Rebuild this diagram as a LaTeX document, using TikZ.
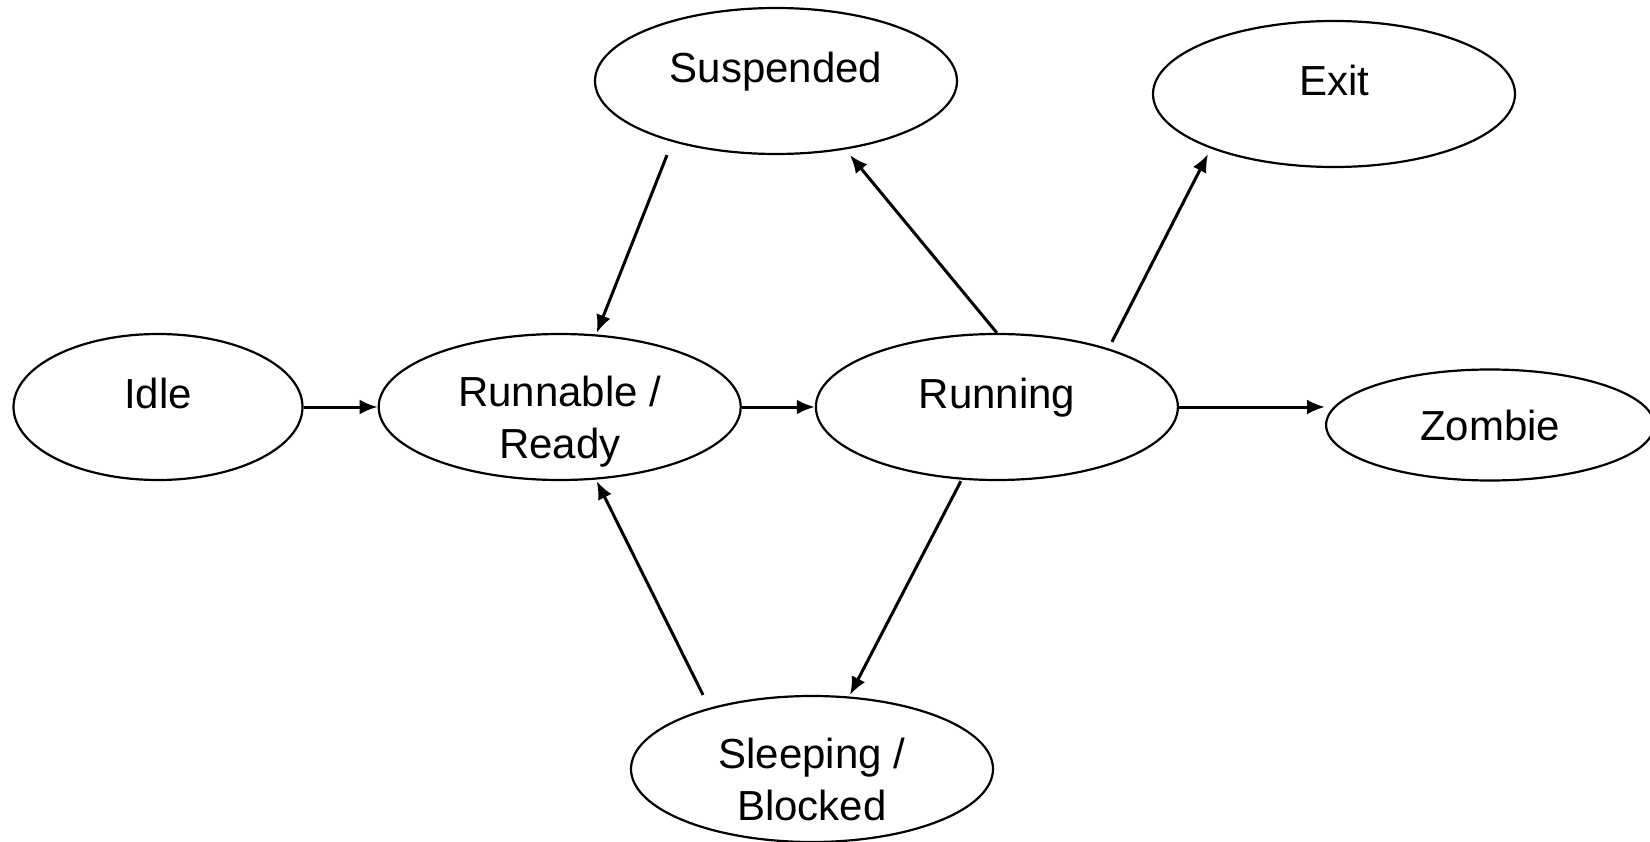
\documentclass[tikz,border=0pt]{standalone}
\usepackage{fontspec}
\setmainfont{Liberation Sans}
\usetikzlibrary{shapes.geometric, positioning, arrows.meta}

\tikzset{
    state/.style={ellipse, draw, line width=2.2pt, minimum width=362pt, minimum height=146pt,
        inner sep=0pt, align=center, text height=31pt, text depth=28pt,
        font=\fontsize{42pt}{52pt}\selectfont},
    twoline/.style={text height=103pt, text depth=-43pt},
}

\begin{document}
\begin{tikzpicture}[x=1pt, y=-1pt, line width=3pt, >={Latex[length=18pt, width=15pt]}, ->]
        \useasboundingbox (0,0) rectangle (1650,842);

        \node[state, minimum width=289pt] (idle) at (158,407) {Idle};
        \node[state, twoline] (runnable) [right=74pt of idle] {Runnable /\\Ready};
        \node[state] (running) [right=73pt of runnable] {Running};
        \node[state, minimum width=328pt, minimum height=111pt, text depth=0pt] (zombie) [right=146pt of running, yshift=-18pt] {Zombie};
        \node[state] (suspended) at (776,81) {Suspended};
        \node[state] (exit) at (1334,94) {Exit};
        \node[state, twoline] (sleeping) at (812,769) {Sleeping /\\Blocked};

        \path (idle) edge (runnable);
        \path (runnable) edge (running);
        \path (running.east) edge (running.east -| zombie.west);
        \path ([xshift=-109pt]suspended.south) edge ([xshift=37pt]runnable.north);
        \path (running.north) edge ([xshift=74pt]suspended.south);
        \path ([xshift=115pt, yshift=-9pt]running.north) edge ([xshift=-126pt, yshift=14pt]exit.south);
        \path ([xshift=-36pt]running.south) edge ([xshift=38pt]sleeping.north);
        \path ([xshift=-109pt]sleeping.north) edge ([xshift=37pt]runnable.south);
    \end{tikzpicture}
\end{document}
